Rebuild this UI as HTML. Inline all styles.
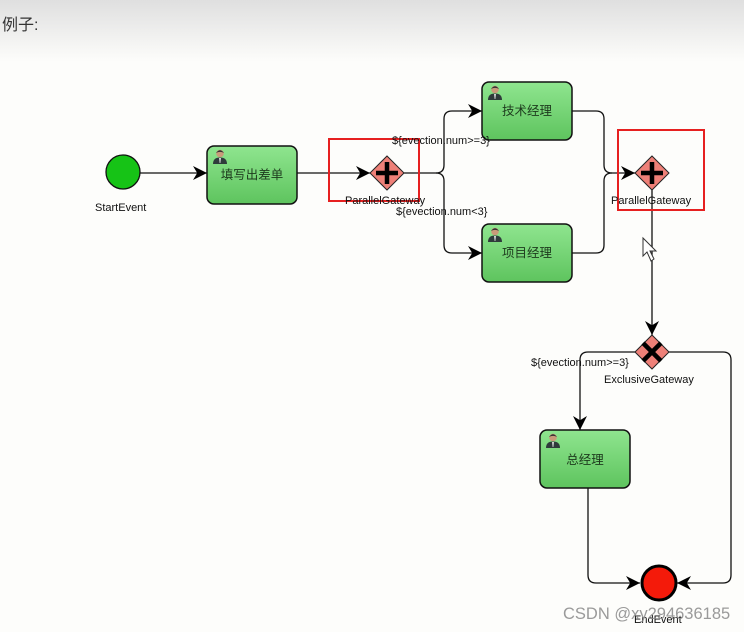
<!DOCTYPE html>
<html><head><meta charset="utf-8"><style>
html,body{margin:0;padding:0;width:744px;height:632px;overflow:hidden;background:#fdfdfb;}
.hdr{position:absolute;left:0;top:0;width:744px;height:62px;background:linear-gradient(#dfdfdf,#fdfdfb);}
.hdr span{position:absolute;left:2px;top:11px;font:16px "Liberation Sans","Noto Sans CJK SC",sans-serif;color:#333;}
svg{position:absolute;left:0;top:0;}
text{font-family:"Liberation Sans","Noto Sans CJK SC",sans-serif;}
</style></head><body>
<div class="hdr"><span>例子:</span></div>
<svg width="744" height="632" viewBox="0 0 744 632">
<defs>
<linearGradient id="g" x1="0" y1="0" x2="0" y2="1"><stop offset="0" stop-color="#8fe58f"/><stop offset="1" stop-color="#5ec45e"/></linearGradient>
<marker id="a" viewBox="0 0 10 10" refX="10" refY="5" markerWidth="14" markerHeight="14" markerUnits="userSpaceOnUse" orient="auto"><path d="M0,0 L10,5 L0,10 L3,5 Z" fill="#000"/></marker>
<g id="u"><circle cx="7" cy="4.5" r="3.8" fill="#c99a7a"/><path d="M3,4 Q7,-1.5 11,4 Q7,1.7 3,4Z" fill="#333"/><path d="M0,15 Q0,8.5 7,8.5 Q14,8.5 14,15Z" fill="#2f3b3b"/><path d="M6.2,9 L7.8,9 L7.3,14 L6.7,14Z" fill="#fff"/></g>
</defs>
<g fill="none" stroke="#111" stroke-width="1.3">
<path d="M140,173 H207" marker-end="url(#a)"/>
<path d="M297,173 H370" marker-end="url(#a)"/>
<path d="M404,173 H436 Q444,173 444,165 V119 Q444,111 452,111 H482" marker-end="url(#a)"/>
<path d="M436,173 Q444,173 444,181 V245 Q444,253 452,253 H482" marker-end="url(#a)"/>
<path d="M572,111 H596 Q604,111 604,119 V165 Q604,173 612,173 H635" marker-end="url(#a)"/>
<path d="M572,253 H596 Q604,253 604,245 V181 Q604,173 612,173"/>
<path d="M652,190 V335" marker-end="url(#a)"/>
<path d="M635,352 H588 Q580,352 580,360 V430" marker-end="url(#a)"/>
<path d="M669,352 H723 Q731,352 731,360 V575 Q731,583 723,583 H677" marker-end="url(#a)"/>
<path d="M588,488 V575 Q588,583 596,583 H640" marker-end="url(#a)"/>
</g>
<circle cx="123" cy="172" r="17" fill="#16c316" stroke="#111" stroke-width="1.3"/>
<g stroke="#111" stroke-width="1.5">
<rect x="207" y="146" width="90" height="58" rx="7" fill="url(#g)"/>
<rect x="482" y="82" width="90" height="58" rx="7" fill="url(#g)"/>
<rect x="482" y="224" width="90" height="58" rx="7" fill="url(#g)"/>
<rect x="540" y="430" width="90" height="58" rx="7" fill="url(#g)"/>
</g>
<use href="#u" x="213" y="149"/><use href="#u" x="488" y="85"/><use href="#u" x="488" y="227"/><use href="#u" x="546" y="433"/>
<g font-size="12.5" fill="#1d3a1d" text-anchor="middle">
<text x="252" y="179">填写出差单</text>
<text x="527" y="115">技术经理</text>
<text x="527" y="257">项目经理</text>
<text x="585" y="464">总经理</text>
</g>
<g stroke="#222" stroke-width="1" fill="#ee8078">
<path d="M387,156 L404,173 L387,190 L370,173Z"/>
<path d="M652,156 L669,173 L652,190 L635,173Z"/>
<path d="M652,335 L669,352 L652,369 L635,352Z"/>
</g>
<g stroke="#000" stroke-width="4.5">
<path d="M387,162 V184 M376,173 H398"/>
<path d="M652,162 V184 M641,173 H663"/>
<path d="M643,343 L661,361 M661,343 L643,361"/>
</g>
<circle cx="659" cy="583" r="17" fill="#f41a0a" stroke="#000" stroke-width="3"/>
<rect x="329" y="139" width="90" height="62" fill="none" stroke="#e62020" stroke-width="2"/>
<rect x="618" y="130" width="86" height="80" fill="none" stroke="#e62020" stroke-width="2"/>
<g font-size="11" fill="#111">
<text x="95" y="211">StartEvent</text>
<text x="345" y="204">ParallelGateway</text>
<text x="392" y="144">${evection.num&gt;=3}</text>
<text x="396" y="215">${evection.num&lt;3}</text>
<text x="611" y="204">ParallelGateway</text>
<text x="531" y="366">${evection.num&gt;=3}</text>
<text x="604" y="383">ExclusiveGateway</text>
<text x="634" y="623">EndEvent</text>
</g>
<path d="M643,238 L643,256 L647,252 L651,261 L654,259 L650,251 L656,251Z" fill="#fff" stroke="#333" stroke-width="1"/>
<text x="563" y="619" font-size="16.5" fill="#888" fill-opacity="0.85">CSDN @xy294636185</text>
</svg>
</body></html>
